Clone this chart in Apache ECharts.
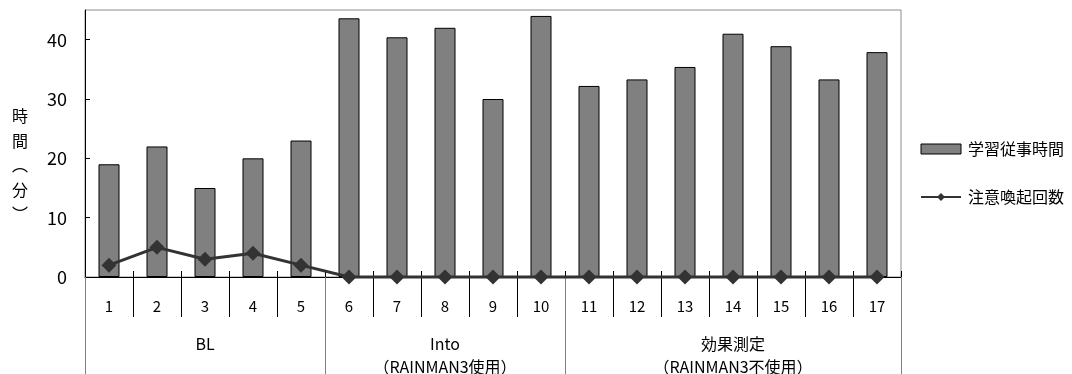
<!DOCTYPE html>
<html>
<head>
<meta charset="utf-8">
<script src="https://cdn.jsdelivr.net/npm/echarts@6/dist/echarts.min.js"></script>
<style>
  html, body { margin: 0; padding: 0; background: #fff; }
  #chart { width: 1072px; height: 374px; }
</style>
</head>
<body>
<div id="chart"></div>
<script>
// Session numbers along the x axis
const sessions = ['1','2','3','4','5','6','7','8','9','10','11','12','13','14','15','16','17'];
// Minutes spent on task per session
const studyMinutes = [19, 22, 15, 20, 23, 43.6, 40.4, 42, 30, 44, 32.2, 33.3, 35.4, 41, 38.9, 33.3, 37.9];
// Number of attention prompts per session
const promptCounts = [2, 5, 3, 4, 2, 0, 0, 0, 0, 0, 0, 0, 0, 0, 0, 0, 0];
// Study phases and how many sessions each spans
const phaseNames = ['BL', 'Into\n（RAINMAN3使用）', '効果測定\n（RAINMAN3不使用）'];
const phaseLengths = [5, 5, 7];
// Value axis range
const yMax = 45;
const yStep = 10;

const seriesNames = ['学習従事時間', '注意喚起回数'];
const FONT = '"Noto Sans CJK JP", "Noto Sans", sans-serif';

// Phase start indices and the session at the centre of each phase
const phaseStarts = [];
const phaseCentres = {};
let acc = 0;
phaseLengths.forEach(function (len, i) {
  phaseStarts.push(acc);
  phaseCentres[acc + Math.floor(len / 2)] = phaseNames[i];
  acc += len;
});

const chart = echarts.init(document.getElementById('chart'), null, { renderer: 'canvas' });

chart.setOption({
  animation: false,
  backgroundColor: '#fff',
  textStyle: { fontFamily: FONT, color: '#000' },
  grid: {
    left: 85, right: 171, top: 10, bottom: 97,
    outerBoundsMode: 'none',
    containLabel: false,
    show: true, borderColor: '#8c8c8c', borderWidth: 1, backgroundColor: 'transparent'
  },
  legend: {
    orient: 'vertical',
    left: 915, top: 136,
    itemWidth: 40, itemHeight: 10,
    itemGap: 32,
    textStyle: { fontFamily: FONT, fontSize: 16, color: '#000', padding: [0, 0, 0, 2] },
    data: [
      { name: seriesNames[0], icon: 'rect', itemStyle: { color: '#808080', borderColor: '#000', borderWidth: 1 } },
      { name: seriesNames[1] }
    ]
  },
  xAxis: [
    {
      // session numbers with separators between them
      type: 'category',
      data: sessions,
      position: 'bottom',
      axisLine: { show: true, lineStyle: { color: '#000', width: 1 } },
      axisTick: { show: true, interval: 0, length: 40, lineStyle: { color: '#000', width: 1 } },
      axisLabel: { interval: 0, margin: 22, fontSize: 15, color: '#000', fontFamily: FONT },
      splitLine: { show: false }
    },
    {
      // phase labels with long boundary lines
      type: 'category',
      data: sessions,
      position: 'bottom',
      axisLine: { show: false },
      axisTick: {
        show: true, length: 100,
        interval: function (i) { return phaseStarts.indexOf(i) >= 0; },
        lineStyle: { color: '#808080', width: 1 }
      },
      axisLabel: {
        interval: 0, margin: 55, fontSize: 16, lineHeight: 23, color: '#000', fontFamily: FONT,
        formatter: function (v, i) { return phaseCentres[i] || ''; }
      },
      splitLine: { show: false }
    },
    {
      // short tick stubs above the baseline
      type: 'category',
      data: sessions,
      position: 'bottom',
      axisLine: { show: false },
      axisTick: { show: true, inside: true, interval: 0, length: 6, lineStyle: { color: '#000', width: 1 } },
      axisLabel: { show: false },
      splitLine: { show: false }
    }
  ],
  yAxis: {
    type: 'value',
    min: 0, max: yMax, interval: yStep,
    axisLine: { show: true, lineStyle: { color: '#000', width: 1 } },
    axisTick: { show: true, inside: true, length: 5, lineStyle: { color: '#000' } },
    axisLabel: { margin: 18, fontSize: 18, color: '#000', fontFamily: FONT, showMaxLabel: false },
    splitLine: { show: false }
  },
  graphic: [{
    type: 'text',
    left: 12, top: 104,
    style: {
      text: '時\n間\n︵\n分\n︶',
      font: '16px ' + FONT,
      fill: '#000',
      lineHeight: 24.5,
      align: 'center'
    }
  }],
  series: [
    {
      name: seriesNames[0],
      type: 'bar',
      data: studyMinutes,
      barWidth: 21,
      itemStyle: { color: '#808080', borderColor: '#000', borderWidth: 1 },
      z: 2
    },
    {
      name: seriesNames[1],
      type: 'line',
      data: promptCounts,
      symbol: 'diamond',
      symbolSize: 15,
      clip: false,
      lineStyle: { color: '#333', width: 3 },
      itemStyle: { color: '#333' },
      z: 5
    }
  ]
});
</script>
</body>
</html>
